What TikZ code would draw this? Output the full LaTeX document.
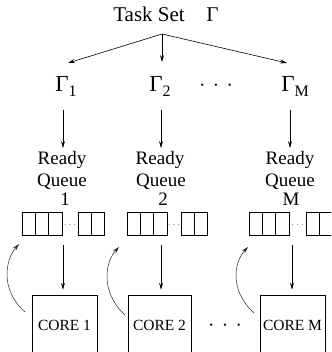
\documentclass[tikz,border=0pt]{standalone}
\usepackage{fontspec}
\setmainfont{Liberation Serif}
\usetikzlibrary{arrows.meta}
\begin{document}
\begin{tikzpicture}[x=1pt,y=-1pt, line width=0.6pt,
  arr/.style={-{Stealth[length=7pt,width=4pt,inset=2.5pt]}},
  lbl/.style={inner sep=0pt, anchor=base, font=\fontsize{19}{19}\selectfont},
  gam/.style={inner sep=0pt, anchor=base west},
  corebox/.style={draw, minimum width=65pt, minimum height=60pt, inner sep=0pt, font=\fontsize{15.5}{15.5}\selectfont},
  back/.style={arr, line width=0.5pt, black!85}]
\useasboundingbox (0,0) rectangle (331,352);
\clip (0,0) rectangle (331,352);

% title
\node[gam, font=\fontsize{21}{21}\selectfont] (ts) at (113,22) {Task Set};
\node[gam, font=\fontsize{21}{21}\selectfont] (tg) at (206,22) {Γ};
\coordinate (src) at (162,34);
\coordinate (t1) at (68,63);
\coordinate (t2) at (162,62);
\coordinate (tM) at (287,63);
\draw[arr] (src) -- (t1);
\draw[arr] (src) -- (t2);
\draw[arr] (src) -- (tM);

% subsets
\node[gam] (g1) at (55,92) {\fontsize{23}{23}\selectfont Γ\raisebox{-5pt}{\fontsize{16}{16}\selectfont 1}};
\node[gam] (g2) at (149,92) {\fontsize{23}{23}\selectfont Γ\raisebox{-5pt}{\fontsize{16}{16}\selectfont 2}};
\node[gam] (gM) at (281,92) {\fontsize{23}{23}\selectfont Γ\raisebox{-5pt}{\fontsize{16}{16}\selectfont M}};
\node[lbl] (gd) at (216,92) {·\hspace{7.5pt}·\hspace{7.5pt}·};

% arrows to ready queues
\coordinate (a1s) at (63,110); \coordinate (a1e) at (63,148);
\coordinate (a2s) at (161,110); \coordinate (a2e) at (161,148);
\coordinate (aMs) at (290,110); \coordinate (aMe) at (290,148);
\draw[arr] (a1s) -- (a1e);
\draw[arr] (a2s) -- (a2e);
\draw[arr] (aMs) -- (aMe);

% ready queue labels
\node[lbl] (r1) at (62,165) {Ready};
\node[lbl] (q1) at (62,186) {Queue};
\node[lbl] (n1) at (65,205) {1};
\node[lbl] (r2) at (160,165) {Ready};
\node[lbl] (q2) at (161,186) {Queue};
\node[lbl] (n2) at (163,205) {2};
\node[lbl] (rM) at (290,165) {Ready};
\node[lbl] (qM) at (290,186) {Queue};
\node[lbl] (nM) at (291,205) {M};

% queue cells
\foreach \a/\b in {22/78,127/181,249/306} {
  \draw (\a,212) rectangle ++(40,23);
  \draw (\a+13.33,212) -- ++(0,23);
  \draw (\a+26.67,212) -- ++(0,23);
  \draw (\b,212) rectangle ++(26.6,23);
  \draw (\b+13.3,212) -- ++(0,23);
  \node[inner sep=0pt, anchor=base, font=\fontsize{7}{7}\selectfont] at ({(\a+40+\b)/2},227) {·\hspace{2.5pt}·\hspace{2.5pt}·};
}

% cores
\node[corebox] (c1) at (64.5,325) {CORE 1};
\node[corebox, minimum width=63pt] (c2) at (159.5,325) {CORE 2};
\node[corebox] (cM) at (292.5,325) {CORE M};
\node[lbl] (cd) at (225,331) {·\hspace{7.5pt}·\hspace{7.5pt}·};

% queue to core
\coordinate (b1) at (63,245);
\coordinate (b2) at (161,245);
\coordinate (bM) at (292,245);
\draw[arr, shorten >=5pt] (b1) -- (b1 |- c1.north);
\draw[arr, shorten >=5pt] (b2) -- (b2 |- c2.north);
\draw[arr, shorten >=5pt] (bM) -- (bM |- cM.north);

% feedback curves
\coordinate (k1s) at (25,312); \coordinate (k1e) at (19,244);
\coordinate (k2s) at (125,315); \coordinate (k2e) at (119,247);
\coordinate (kMs) at (254,313); \coordinate (kMe) at (248,247);
\draw[back] (k1s) .. controls (0,290) and (5,260) .. (k1e);
\draw[back] (k2s) .. controls (100,292) and (105,262) .. (k2e);
\draw[back] (kMs) .. controls (229,290) and (234,262) .. (kMe);
\end{tikzpicture}
\end{document}
